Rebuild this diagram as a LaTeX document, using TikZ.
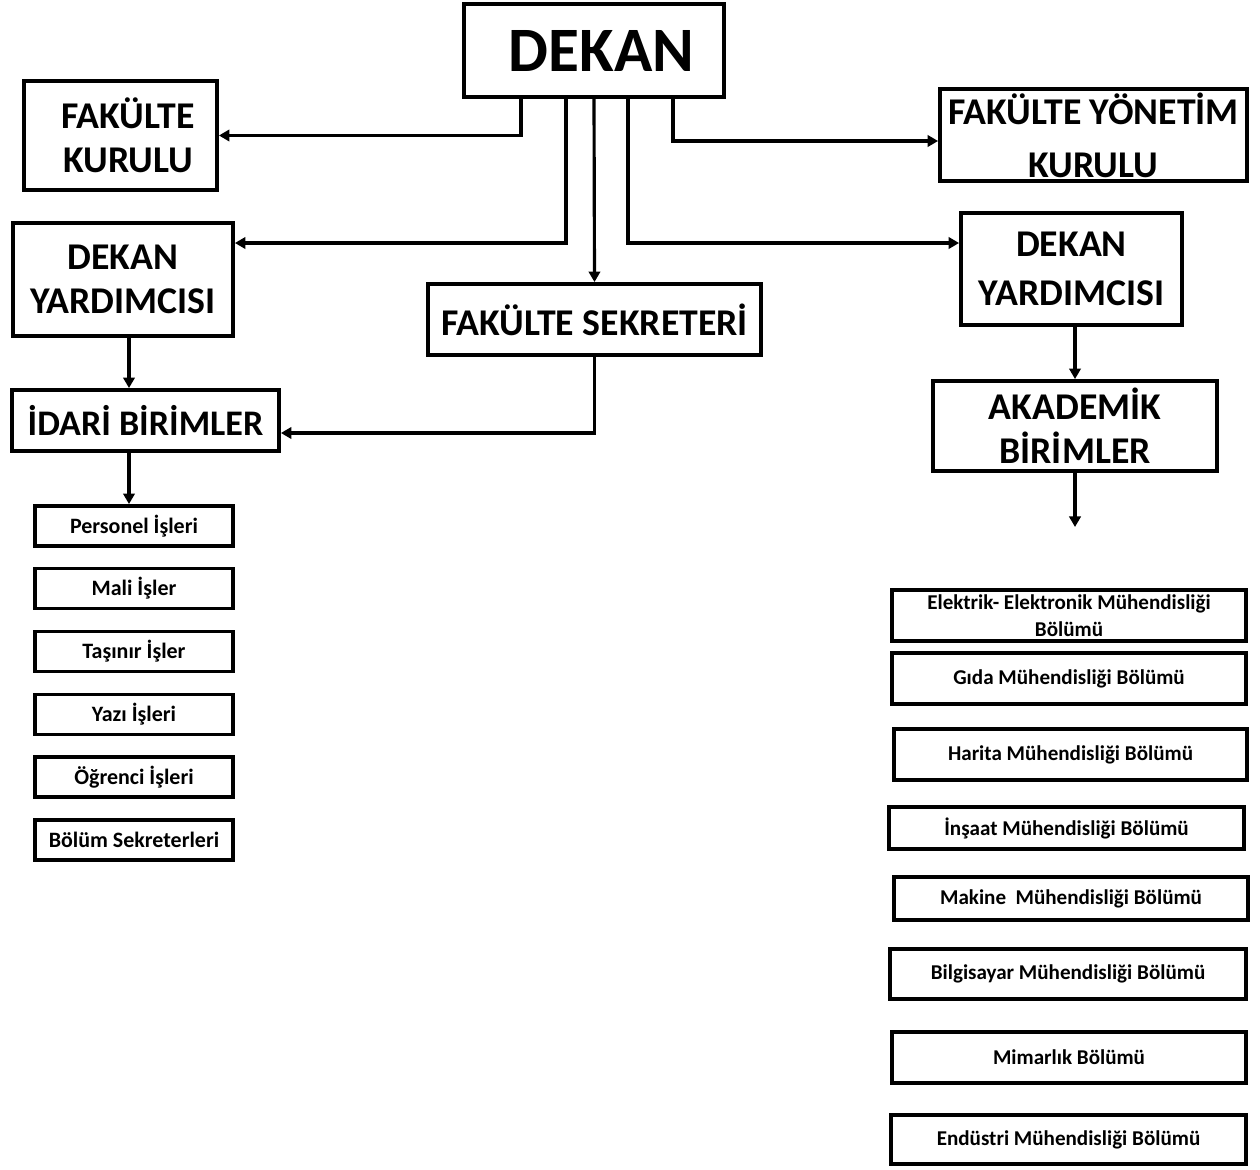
\documentclass[tikz,border=0pt]{standalone}
\usepackage{fontspec}
\setmainfont{Carlito}
\usetikzlibrary{arrows.meta}
\tikzset{
  kutu/.style={rectangle,draw=black,fill=white,line width=2.2pt,align=center,inner sep=2pt,font=\bfseries},
  buyuk/.style={kutu,font=\fontsize{36}{40}\selectfont\bfseries},
  orta/.style={kutu,font=\fontsize{21.5}{25}\selectfont\bfseries},
  kucuk/.style={kutu,font=\fontsize{12.5}{15}\selectfont\bfseries},
  bolum/.style={kutu,font=\fontsize{12}{15.5}\selectfont\bfseries},
  bag/.style={line width=1.8pt},
}
\begin{document}
\begin{tikzpicture}[>={Triangle[length=6pt,width=6.5pt]},x=0.02cm,y=-0.02cm]
\useasboundingbox (0,0) rectangle (1260,1169);

\node (dekan) at (594,50.5)[buyuk,minimum width=5.2cm,minimum height=1.86cm]{\hspace{0.3cm}DEKAN};
\node (fk) at (120.5,135.5)[orta,minimum width=3.86cm,minimum height=2.18cm]{\hspace{0.3cm}FAKÜLTE\\\hspace{0.3cm}KURULU};
\node (fyk) at (1093.5,135)[orta,font=\fontsize{21.5}{30}\selectfont\bfseries,minimum width=6.14cm,minimum height=1.8cm]{FAKÜLTE YÖNETİM\\KURULU};
\node (dy1) at (123,279.5)[orta,minimum width=4.4cm,minimum height=2.26cm]{DEKAN\\YARDIMCISI};
\node (dy2) at (1071.5,269)[orta,font=\fontsize{21.5}{28}\selectfont\bfseries,minimum width=4.42cm,minimum height=2.24cm]{DEKAN\\YARDIMCISI};
\node (fs) at (594.5,319.5)[orta,minimum width=6.66cm,minimum height=1.42cm]{FAKÜLTE SEKRETERİ};
\node (idari) at (145.5,420.5)[orta,font=\fontsize{20.5}{25}\selectfont\bfseries,minimum width=5.34cm,minimum height=1.22cm]{İDARİ BİRİMLER};
\node (akademik) at (1075,426)[orta,minimum width=5.68cm,minimum height=1.8cm]{AKADEMİK\\BİRİMLER};

% idari birimler
\node (p1) at (134,526)[kucuk,minimum width=3.96cm,minimum height=0.8cm]{Personel İşleri};
\node (p2) at (134,588.5)[kucuk,minimum width=3.96cm,minimum height=0.8cm]{Mali İşler};
\node (p3) at (134,651.5)[kucuk,minimum width=3.96cm,minimum height=0.8cm]{Taşınır İşler};
\node (p4) at (134,714.5)[kucuk,minimum width=3.96cm,minimum height=0.8cm]{Yazı İşleri};
\node (p5) at (134,777)[kucuk,minimum width=3.96cm,minimum height=0.8cm]{Öğrenci İşleri};
\node (p6) at (134,840)[kucuk,minimum width=3.96cm,minimum height=0.8cm]{Bölüm Sekreterleri};

% akademik birimler
\node (b1) at (1069,615.5)[bolum,minimum width=7.08cm,minimum height=1.02cm]{Elektrik- Elektronik Mühendisliği\\Bölümü};
\node (b2) at (1069,678.5)[bolum,minimum width=7.08cm,minimum height=1.02cm]{Gıda Mühendisliği Bölümü};
\node (b3) at (1070.5,754.5)[bolum,minimum width=7.06cm,minimum height=1.02cm]{Harita Mühendisliği Bölümü};
\node (b4) at (1066.5,828)[bolum,minimum width=7.1cm,minimum height=0.84cm]{İnşaat Mühendisliği Bölümü};
\node (b5) at (1071,898.5)[bolum,minimum width=7.08cm,minimum height=0.86cm]{Makine~ Mühendisliği Bölümü};
\node (b6) at (1068,974)[bolum,minimum width=7.12cm,minimum height=1.0cm]{Bilgisayar Mühendisliği Bölümü};
\node (b7) at (1069,1057.5)[bolum,minimum width=7.08cm,minimum height=1.02cm]{Mimarlık Bölümü};
\node (b8) at (1068.5,1139.5)[bolum,minimum width=7.1cm,minimum height=0.98cm]{Endüstri Mühendisliği Bölümü};

\coordinate (ak) at (1075,527);

\draw[bag,->]([xshift=-1.46cm]dekan.south)|-(fk.east);
\draw[bag,->]([xshift=-0.56cm]dekan.south)|-([yshift=0.73cm]dy1.east);
\draw[bag,->](dekan.south)--(fs.north);
\draw[bag,->]([xshift=0.68cm]dekan.south)|-([yshift=0.52cm]dy2.west);
\draw[bag,->]([xshift=1.58cm]dekan.south)|-([yshift=-0.12cm]fyk.west);
\draw[bag,->](fs.south)|-([yshift=-0.25cm]idari.east);
\draw[bag,->]([xshift=0.12cm]dy1.south)--([xshift=0.12cm]dy1.south|-idari.north);
\draw[bag,->]([xshift=-0.1cm]p1.north|-idari.south)--([xshift=-0.1cm]p1.north);
\draw[bag,->](dy2.south-|akademik.north)--(akademik.north);
\draw[bag,->](akademik.south)--(ak);
\end{tikzpicture}
\end{document}
